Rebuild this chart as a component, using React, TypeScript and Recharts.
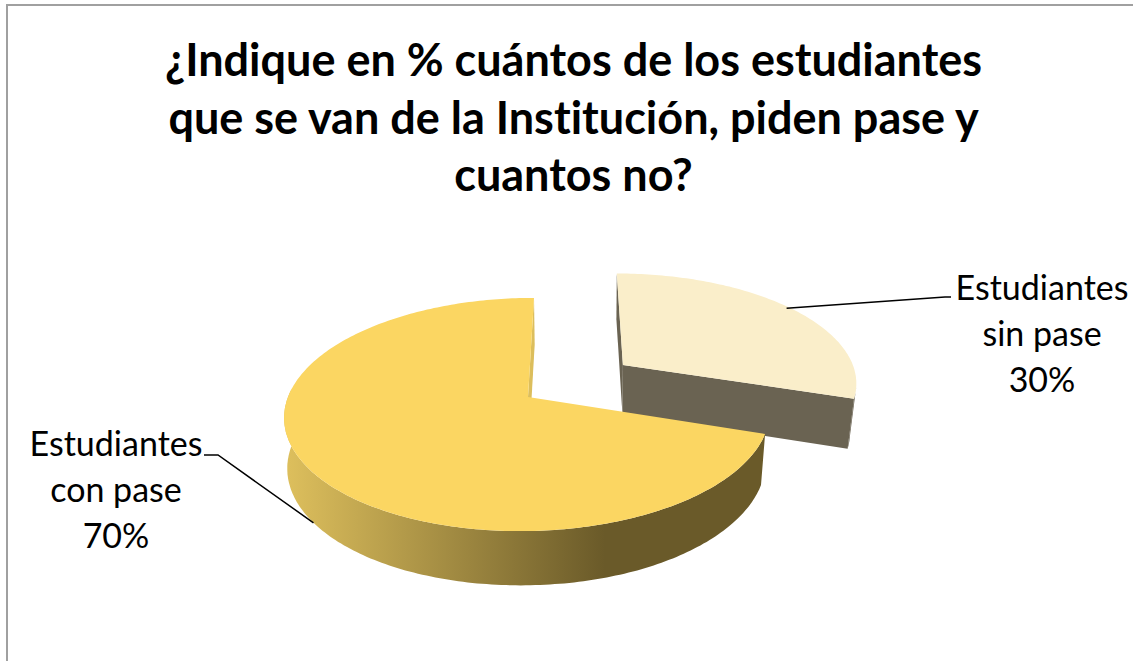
import { PieChart, Pie } from 'recharts';

const titleLines = [
  '¿Indique en % cuántos de los estudiantes',
  'que se van de la Institución, piden pase y',
  'cuantos no?',
];
const categories = ['Estudiantes sin pase', 'Estudiantes con pase'];
const shares = [30, 70];

const data = categories.map((name, i) => ({ name, value: shares[i] }));

const FONT = 'Lato, "Open Sans", sans-serif';
const TILT = 114; // vertical squash of the disc
const PERSP = 0.15; // perspective strength front to back
const SKEW = 6.9;
const DEPTH = 50;
const VANISH_X = 600;
const EXPLODE = [0.5, 0];

const topColors = ['#faeeca', '#fbd662'];
const startWall = ['#6a6352', 'none'];
const endWall = ['#6a6352', '#dcbe5c'];
const rimFills = ['#6a6352', 'url(#rimGold)'];
const rimCutoff = [-0.2, 0.08]; // only the front of the rim is ever seen

// disc coords (u right, v back, unit radius) to screen
function project(cx: number, cy: number, r: number, u: number, v: number) {
  const p = 1 / (1 + PERSP * v);
  return { x: cx + (r * u + SKEW * v) * p, y: cy - TILT * v * p, p };
}

// same point on the underside of the slab
function lower(pt: { x: number; y: number; p: number }) {
  const shrink = pt.x < VANISH_X ? 0.99 : 0.975;
  return { x: VANISH_X + (pt.x - VANISH_X) * shrink, y: pt.y + DEPTH * Math.sqrt(pt.p), p: pt.p };
}

function explodeOffset(index: number, startAngle: number, endAngle: number) {
  const mid = (((startAngle + endAngle) / 2) * Math.PI) / 180;
  return { du: EXPLODE[index] * Math.cos(mid), dv: EXPLODE[index] * Math.sin(mid) };
}

const toPath = (pts: { x: number; y: number }[]) =>
  'M' + pts.map(p => `${p.x.toFixed(1)},${p.y.toFixed(1)}`).join('L') + 'Z';

function Slice3D(props: any) {
  const { cx, cy, outerRadius, startAngle, endAngle, index } = props;
  const { du, dv } = explodeOffset(index, startAngle, endAngle);
  const arc: { x: number; y: number; p: number }[] = [];
  const rim: { x: number; y: number; p: number }[] = [];
  const steps = Math.ceil(Math.abs(endAngle - startAngle));
  for (let i = 0; i <= steps; i++) {
    const a = ((startAngle + ((endAngle - startAngle) * i) / steps) * Math.PI) / 180;
    const pt = project(cx, cy, outerRadius, du + Math.cos(a), dv + Math.sin(a));
    arc.push(pt);
    if (Math.sin(a) < rimCutoff[index]) rim.push(pt);
  }
  const apex = project(cx, cy, outerRadius, du, dv);
  const rimLow = rim.map(lower);
  const apexLow = lower(apex);
  const first = arc[0];
  const last = arc[arc.length - 1];
  return (
    <g>
      <defs>
        <linearGradient id="rimGold" gradientUnits="userSpaceOnUse" x1={290} y1={0} x2={605} y2={0}>
          <stop offset="0" stopColor="#dcbe5c" />
          <stop offset="1" stopColor="#6a5a29" />
        </linearGradient>
      </defs>
      <path d={toPath([apex, first, lower(first), apexLow])} fill={startWall[index]} />
      <path d={toPath([apex, last, lower(last), apexLow])} fill={endWall[index]} />
      <path d={toPath([...rim, ...[...rimLow].reverse()])} fill={rimFills[index]} />
      <path d={toPath([apex, ...arc])} fill={topColors[index]} />
    </g>
  );
}

const labelLayout = [
  { x: 1042, y: 300, elbow: [[945, 297], [951, 297]] },
  { x: 116, y: 456, elbow: [[218, 455], [204, 455]] },
];

function leaderAnchor(props: any) {
  const { cx, cy, outerRadius, startAngle, endAngle, index, midAngle } = props;
  const { du, dv } = explodeOffset(index, startAngle, endAngle);
  const a = (midAngle * Math.PI) / 180;
  const pt = project(cx, cy, outerRadius, du + Math.cos(a), dv + Math.sin(a));
  return index === 0 ? pt : lower(pt);
}

function renderLine(props: any) {
  const start = leaderAnchor(props);
  const pts = [[start.x - (props.index === 0 ? 4 : 0), start.y], ...labelLayout[props.index].elbow];
  return <polyline points={pts.map(p => p.join(',')).join(' ')} fill="none" stroke="#000" strokeWidth={1.5} />;
}

function renderLabel(props: any) {
  const { index, name, percent } = props;
  const pos = labelLayout[index];
  const words = name.split(' ');
  const rows = [words[0], words.slice(1).join(' '), `${Math.round(percent * 100)}%`];
  return (
    <text x={pos.x} y={pos.y} textAnchor="middle" fontFamily={FONT} fontSize={34} fill="#000" style={{ fontVariantLigatures: 'none' }}>
      {rows.map((row, i) => (
        <tspan key={i} x={pos.x} y={pos.y + i * 46}>{row}</tspan>
      ))}
    </text>
  );
}

export default function App() {
  return (
    <div style={{ position: 'absolute', left: 0, top: 0, width: 1133, height: 661, background: '#fff', overflow: 'hidden' }}>
      <div style={{ position: 'absolute', left: 6, top: 4, width: 1127, height: 657, borderLeft: '2px solid #a0a0a0', borderTop: '2px solid #a0a0a0', boxSizing: 'border-box' }} />
      <PieChart width={1133} height={661} margin={{ top: 0, right: 0, bottom: 0, left: 0 }}>
        <Pie
          data={data}
          dataKey="value"
          nameKey="name"
          cx={528}
          cy={397}
          outerRadius={240}
          startAngle={90}
          endAngle={-270}
          stroke="none"
          shape={Slice3D}
          label={renderLabel}
          labelLine={renderLine}
          isAnimationActive={false}
        />
      </PieChart>
      <div style={{ position: 'absolute', left: 0, top: 31, width: 1147, textAlign: 'center', fontFamily: FONT, fontWeight: 700, fontSize: 45, lineHeight: '57.5px', color: '#000', fontVariantLigatures: 'none' }}>
        {titleLines.map(line => (
          <div key={line}>{line}</div>
        ))}
      </div>
    </div>
  );
}
